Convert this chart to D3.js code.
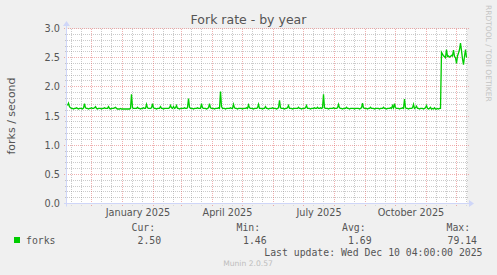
<!DOCTYPE html>
<html><head><meta charset="utf-8">
<script src="https://cdn.jsdelivr.net/npm/d3@7/dist/d3.min.js"></script>
<style>html,body{margin:0;padding:0;background:#f0f0f0;}svg{display:block;}</style>
</head><body>
<svg id="chart" width="497" height="275"></svg>
<script>
// ---- data ----
const chartTitle = "Fork rate - by year";
const yAxisLabel = "forks / second";
const seriesName = "forks";
const rangeStart = new Date(2024, 10, 6, 12);   // graph start
const rangeEnd = new Date(2025, 11, 11, 12);    // graph end (400 days)
const yTickValues = [0, 0.5, 1.0, 1.5, 2.0, 2.5, 3.0];
const yTickLabels = ["0.0", "0.5", "1.0", "1.5", "2.0", "2.5", "3.0"];
const xLabelMonths = [new Date(2025, 0, 1), new Date(2025, 3, 1), new Date(2025, 6, 1), new Date(2025, 9, 1)];
const xLabelTexts = ["January 2025", "April 2025", "July 2025", "October 2025"];
const minorGridDays = [11, 21];
// daily averages, one per day from rangeStart
const forks = [
1.68,1.72,1.66,1.64,1.63,1.63,1.62,1.63,1.63,1.64,1.63,1.62,1.63,1.63,1.63,1.62,1.64,1.71,1.64,1.63,
1.63,1.62,1.63,1.63,1.64,1.63,1.63,1.64,1.66,1.63,1.62,1.63,1.63,1.63,1.62,1.63,1.63,1.64,1.63,1.63,
1.63,1.66,1.63,1.62,1.63,1.63,1.63,1.64,1.65,1.63,1.62,1.62,1.62,1.63,1.62,1.62,1.62,1.62,1.62,1.62,
1.62,1.62,1.62,1.63,1.87,1.64,1.63,1.63,1.63,1.63,1.65,1.63,1.63,1.62,1.63,1.63,1.64,1.63,1.63,1.70,
1.64,1.63,1.63,1.63,1.64,1.71,1.64,1.63,1.63,1.62,1.63,1.63,1.63,1.66,1.63,1.63,1.62,1.63,1.63,1.63,
1.63,1.63,1.64,1.68,1.64,1.63,1.66,1.63,1.64,1.68,1.63,1.63,1.62,1.63,1.63,1.63,1.63,1.64,1.63,1.63,
1.64,1.80,1.65,1.63,1.63,1.63,1.62,1.63,1.63,1.63,1.64,1.63,1.63,1.63,1.71,1.64,1.63,1.63,1.63,1.62,
1.63,1.64,1.71,1.64,1.63,1.63,1.63,1.62,1.63,1.63,1.63,1.64,1.63,1.92,1.66,1.63,1.63,1.63,1.62,1.63,
1.63,1.63,1.63,1.64,1.63,1.63,1.70,1.64,1.63,1.63,1.62,1.63,1.63,1.63,1.63,1.62,1.63,1.63,1.63,1.64,
1.63,1.69,1.64,1.63,1.63,1.63,1.62,1.63,1.63,1.63,1.64,1.70,1.63,1.63,1.63,1.62,1.63,1.63,1.66,1.63,
1.63,1.62,1.63,1.63,1.63,1.64,1.63,1.63,1.63,1.62,1.63,1.64,1.77,1.64,1.63,1.63,1.63,1.62,1.63,1.63,
1.64,1.68,1.63,1.63,1.63,1.62,1.63,1.63,1.63,1.63,1.63,1.65,1.63,1.63,1.62,1.63,1.63,1.63,1.64,1.68,
1.63,1.63,1.63,1.62,1.63,1.63,1.63,1.64,1.63,1.63,1.65,1.63,1.63,1.64,1.63,1.64,1.87,1.64,1.63,1.63,
1.63,1.62,1.63,1.63,1.63,1.63,1.64,1.63,1.63,1.63,1.64,1.70,1.64,1.63,1.63,1.62,1.63,1.63,1.63,1.65,
1.63,1.63,1.62,1.63,1.63,1.63,1.63,1.62,1.63,1.63,1.63,1.63,1.62,1.63,1.64,1.72,1.64,1.63,1.63,1.63,
1.62,1.63,1.63,1.65,1.63,1.63,1.63,1.62,1.63,1.63,1.63,1.63,1.62,1.63,1.63,1.63,1.65,1.63,1.63,1.62,
1.63,1.63,1.63,1.64,1.63,1.68,1.64,1.71,1.64,1.63,1.63,1.63,1.62,1.63,1.63,1.64,1.63,1.79,1.64,1.63,
1.63,1.62,1.63,1.63,1.63,1.64,1.70,1.63,1.64,1.67,1.63,1.63,1.62,1.63,1.63,1.63,1.62,1.63,1.64,1.68,
1.63,1.62,1.63,1.65,1.62,1.63,1.62,1.64,1.62,1.62,1.63,1.62,1.63,1.63,2.59,2.56,2.53,2.52,2.50,2.64,
2.52,2.53,2.51,2.52,2.54,2.53,2.63,2.52,2.50,2.40,2.53,2.58,2.64,2.75,2.62,2.48,2.38,2.52,2.64,2.50
];
const statLabels = ["Cur:", "Min:", "Avg:", "Max:"];
const statValues = ["2.50", "1.46", "1.69", "79.14"];
const lastUpdate = "Last update: Wed Dec 10 04:00:00 2025";
const footer = "Munin 2.0.57";
const sideText = "RRDTOOL / TOBI OETIKER";

// ---- layout ----
const L = 67, R = 467, T = 28.5, B = 203.5;
const svg = d3.select("#chart");
const sans = "'DejaVu Sans', sans-serif";
const mono = "'DejaVu Sans Mono', monospace";
const fontCol = "#555";

svg.append("rect").attr("width", 497).attr("height", 275).attr("fill", "#f0f0f0");
svg.append("rect").attr("x", L).attr("y", 29).attr("width", R - L).attr("height", 175).attr("fill", "#fff");

const x = d3.scaleTime().domain([rangeStart, rangeEnd]).range([L, R]);
const y = d3.scaleLinear().domain([0, 3]).range([B, T]);
const crisp = v => Math.round(v - 0.5) + 0.5;

const minorCol = "rgba(140,140,140,0.45)";
const majorCol = "rgba(222,79,79,0.45)";
const g = svg.append("g");

// horizontal minor grid
const yMinor = d3.range(1, 30).map(i => i / 10).filter(v => Math.abs(v * 2 - Math.round(v * 2)) > 1e-6);
g.selectAll(".hmin").data(yMinor).join("line")
  .attr("x1", L - 2).attr("x2", R + 2)
  .attr("y1", d => crisp(y(d))).attr("y2", d => crisp(y(d)))
  .attr("stroke", minorCol).attr("stroke-dasharray", "1,1");
// vertical minor grid
const minorDates = d3.timeDay.range(rangeStart, rangeEnd).filter(d => minorGridDays.includes(d.getDate()));
g.selectAll(".vmin").data(minorDates).join("line")
  .attr("x1", d => crisp(x(d))).attr("x2", d => crisp(x(d)))
  .attr("y1", 29).attr("y2", B + 2)
  .attr("stroke", minorCol).attr("stroke-dasharray", "1,1");
// horizontal major grid
g.selectAll(".hmaj").data(yTickValues.slice(1)).join("line")
  .attr("x1", L - 3).attr("x2", R + 3)
  .attr("y1", d => crisp(y(d))).attr("y2", d => crisp(y(d)))
  .attr("stroke", majorCol).attr("stroke-dasharray", "1,1");
// vertical major grid (months)
const months = d3.timeMonth.range(d3.timeMonth.ceil(rangeStart), rangeEnd);
g.selectAll(".vmaj").data(months).join("line")
  .attr("x1", d => crisp(x(d))).attr("x2", d => crisp(x(d)))
  .attr("y1", 29).attr("y2", B + 3)
  .attr("stroke", majorCol).attr("stroke-dasharray", "1,1");

// axes
const axisCol = "#cfd6f8";
svg.append("line").attr("x1", L - 3).attr("x2", R + 3).attr("y1", B).attr("y2", B).attr("stroke", axisCol);
svg.append("line").attr("x1", L - 0.5).attr("x2", L - 0.5).attr("y1", B + 3).attr("y2", 25).attr("stroke", axisCol);
svg.append("path").attr("d", `M${R + 2},${B - 3.5}L${R + 7},${B}L${R + 2},${B + 3.5}Z`).attr("fill", axisCol);
svg.append("path").attr("d", `M${L - 4},${26}L${L - 0.5},${21}L${L + 3},${26}Z`).attr("fill", axisCol);

// y tick labels
svg.selectAll(".ytl").data(yTickValues).join("text")
  .attr("x", 60).attr("y", d => y(d) + 3.5)
  .attr("text-anchor", "end").attr("font-family", sans).attr("font-size", "9.7px")
  .attr("fill", fontCol).text((d, i) => yTickLabels[i]);

// x labels centred in their month
svg.selectAll(".xtl").data(xLabelMonths).join("text")
  .attr("x", d => (x(d) + x(d3.timeMonth.offset(d, 1))) / 2).attr("y", 216)
  .attr("text-anchor", "middle").attr("font-family", sans).attr("font-size", "9.7px")
  .attr("fill", fontCol).text((d, i) => xLabelTexts[i]);

// line
const day = 864e5;
const pts = forks.map((v, i) => ({ t: new Date(+rangeStart + (i + 0.5) * day), v }));
svg.append("path").datum(pts)
  .attr("d", d3.line().x(d => x(d.t)).y(d => y(d.v)))
  .attr("fill", "none").attr("stroke", "#00cc00").attr("stroke-width", 1.3);

// title & labels
svg.append("text").attr("x", 248.5).attr("y", 24).attr("text-anchor", "middle")
  .attr("font-family", sans).attr("font-size", "12.5px").attr("fill", fontCol).text(chartTitle);
svg.append("text").attr("transform", "translate(14.5,116) rotate(-90)").attr("text-anchor", "middle")
  .attr("font-family", sans).attr("font-size", "11px").attr("fill", fontCol).text(yAxisLabel);
svg.append("text").attr("transform", "translate(486,5) rotate(90)").attr("text-anchor", "start")
  .attr("font-family", sans).attr("font-size", "7.5px").attr("fill", "#c4c4c4").text(sideText);

// legend
svg.append("rect").attr("x", 14).attr("y", 237).attr("width", 6).attr("height", 6).attr("fill", "#00cc00");
svg.append("text").attr("x", 26).attr("y", 243.5).attr("font-family", mono).attr("font-size", "9.8px")
  .attr("fill", fontCol).text(seriesName);
const hdrX = [131.5, 236.5, 342, 446.5];
const valX = [137.5, 243, 348, 447.5];
svg.selectAll(".sl").data(statLabels).join("text")
  .attr("x", (d, i) => hdrX[i]).attr("y", 231).attr("font-family", mono).attr("font-size", "9.8px")
  .attr("fill", fontCol).text(d => d);
svg.selectAll(".sv").data(statValues).join("text")
  .attr("x", (d, i) => valX[i]).attr("y", 243.5).attr("font-family", mono).attr("font-size", "9.8px")
  .attr("fill", fontCol).text(d => d);
svg.append("text").attr("x", 482.5).attr("y", 255.5).attr("text-anchor", "end")
  .attr("font-family", mono).attr("font-size", "9.8px").attr("fill", fontCol).text(lastUpdate);
svg.append("text").attr("x", 248).attr("y", 266).attr("text-anchor", "middle")
  .attr("font-family", sans).attr("font-size", "7.6px").attr("fill", "#bdbdbd").text(footer);
</script>
</body></html>
